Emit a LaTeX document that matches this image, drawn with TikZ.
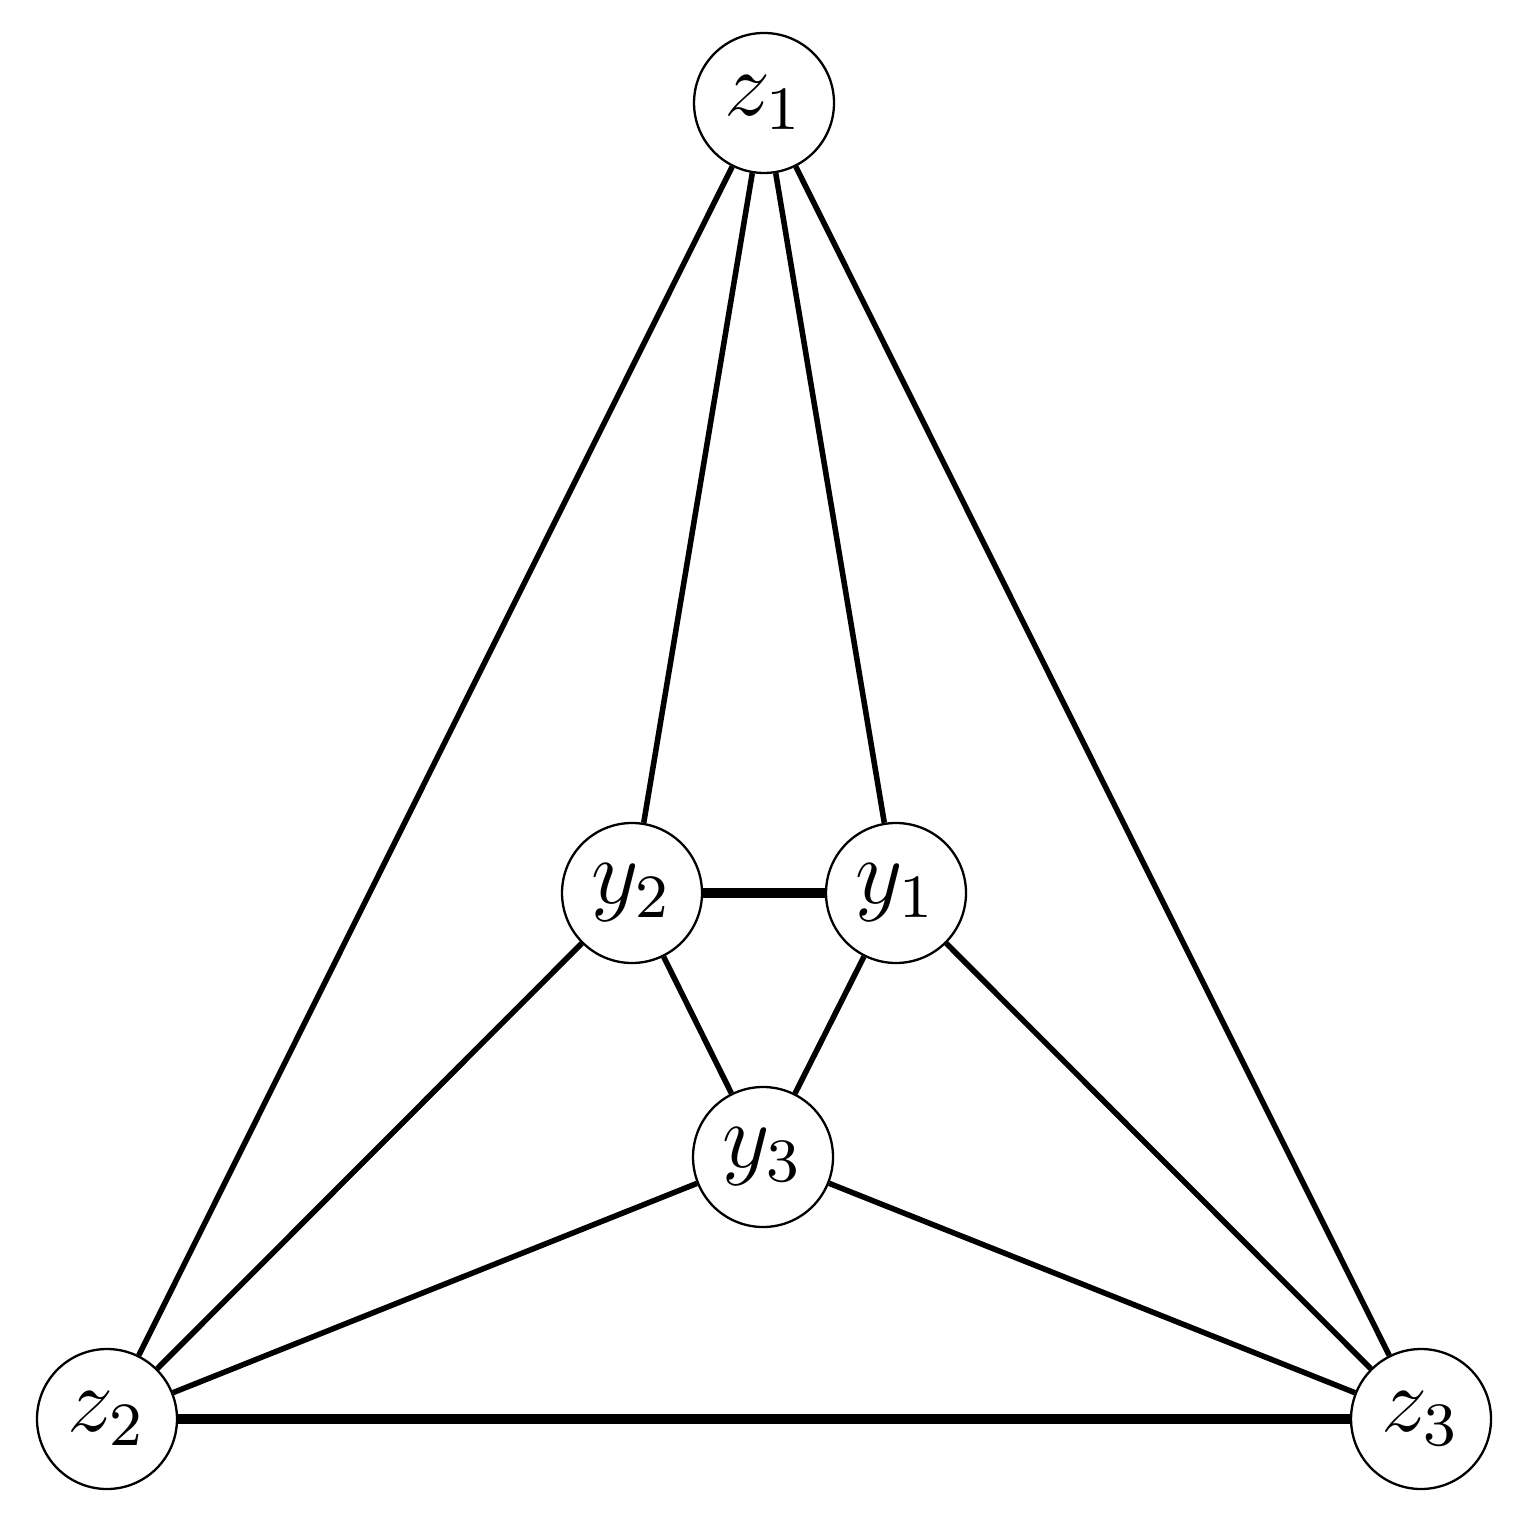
\documentclass[tikz,border=0pt]{standalone}
\begin{document}
\begin{tikzpicture}[x=0.13pt,y=-0.13pt,
  vtx/.style={circle,draw,line width=0.3pt,minimum size=18.2pt,inner sep=0pt,fill=white,font=\fontsize{11.5}{13}\selectfont},
  edge/.style={line width=0.72pt},
  bedge/.style={line width=1.2pt}]
\useasboundingbox (0,0) rectangle (1513,1513);
\node[vtx] (z1) at (764,103) {$z_1$};
\node[vtx] (y2) at (632,893) {$y_2$};
\node[vtx] (y1) at (896,893) {$y_1$};
\node[vtx] (y3) at (763,1157) {$y_3$};
\node[vtx] (z2) at (107,1419) {$z_2$};
\node[vtx] (z3) at (1421,1419) {$z_3$};
\draw[edge] (z1) -- (z2);
\draw[edge] (z1) -- (y2);
\draw[edge] (z1) -- (y1);
\draw[edge] (z1) -- (z3);
\draw[bedge] (y2) -- (y1);
\draw[edge] (y2) -- (z2);
\draw[edge] (y2) -- (y3);
\draw[edge] (y1) -- (y3);
\draw[edge] (y1) -- (z3);
\draw[edge] (y3) -- (z2);
\draw[edge] (y3) -- (z3);
\draw[bedge] (z2) -- (z3);
\end{tikzpicture}
\end{document}
